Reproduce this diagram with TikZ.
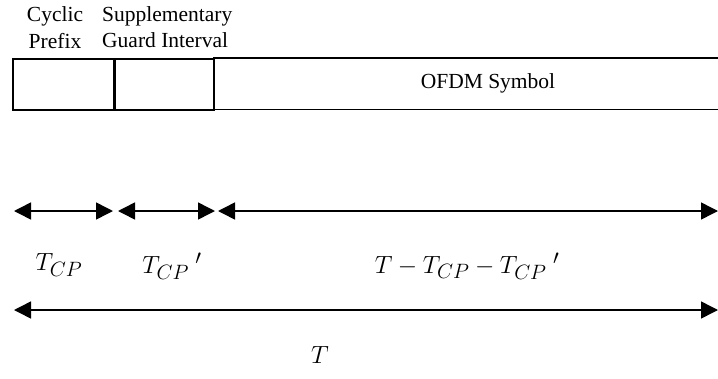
\documentclass[tikz,border=0pt]{standalone}
\usepackage{fontspec}
\setmainfont{Liberation Serif}
\usetikzlibrary{arrows.meta}
\begin{document}
\begin{tikzpicture}[x=1pt,y=-1pt,
  lbl/.style={inner sep=0pt,font=\fontsize{21.5}{23}\selectfont},
  seg/.style={draw=black,line width=1.6pt,rectangle,inner sep=0pt,anchor=north west},
  dim/.style={line width=1.5pt,{Triangle[length=17pt,width=17pt]}-{Triangle[length=17pt,width=17pt]}},
  mlbl/.style={inner sep=0pt,font=\fontsize{30}{34}\selectfont}]
\useasboundingbox (0,0) rectangle (718,378);
% frame segments
\node[seg,minimum width=101pt,minimum height=51pt] (cp) at (12,58) {};
\node[seg,minimum width=100pt,minimum height=51pt] (gi) at (113,58) {};
\draw[line width=2.6pt] (cp.north east) -- (cp.south east);
\node[inner sep=0pt,minimum width=505pt,minimum height=51pt,anchor=north west] (sym) at (213,58) {};
\draw[line width=1.6pt] (sym.north west) -- (sym.north east);
\draw[line width=1.6pt] (sym.south west) -- (sym.south east);
\node[lbl] (symtxt) at (488,83) {OFDM Symbol};
% titles
\node[lbl] (cyc) at (55,16) {Cyclic};
\node[lbl] (pre) at (55,41) {Prefix};
\node[lbl,anchor=west] (sup) at (102,16) {Supplementary};
\node[lbl,anchor=west] (gua) at (102,40) {Guard Interval};
% dimension arrows
\coordinate (a0) at (14,211);
\coordinate (a1) at (113,211);
\coordinate (b0) at (118,211);
\coordinate (b1) at (215,211);
\coordinate (c0) at (218,211);
\coordinate (c1) at (718,211);
\coordinate (d0) at (14,310);
\coordinate (d1) at (718,310);
\draw[dim] (a0) -- (a1);
\draw[dim] (b0) -- (b1);
\draw[dim] (c0) -- (c1);
\draw[dim] (d0) -- (d1);
% labels
\node[mlbl] (l1) at (59,265) {$T_{CP}$};
\node[mlbl] (l2) at (172,265) {$T_{CP}^{\phantom{CP}\,\prime}$};
\node[mlbl] (l3) at (467,265) {$T-T_{CP}-T_{CP}^{\phantom{CP}\,\prime}$};
\node[mlbl] (l4) at (320,355) {$T$};
\end{tikzpicture}
\end{document}
